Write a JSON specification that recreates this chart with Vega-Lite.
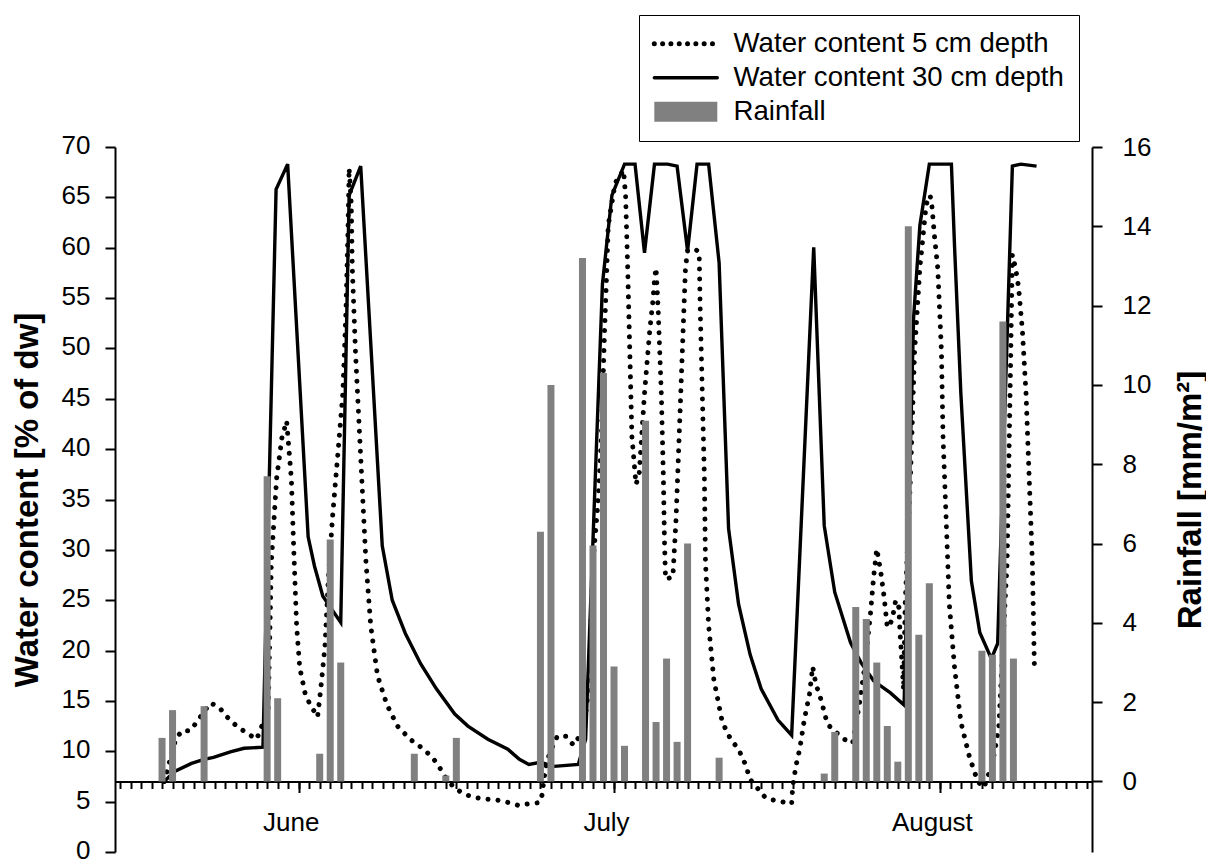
{
  "$schema": "https://vega.github.io/schema/vega-lite/v6.json",
  "width": 977,
  "height": 705,
  "autosize": "none",
  "padding": {"left": 115, "top": 147, "right": 114, "bottom": 8},
  "background": "white",
  "config": {
    "view": {"stroke": null},
    "font": "Liberation Sans",
    "axis": {
      "grid": false,
      "domainColor": "black",
      "domainWidth": 2,
      "tickColor": "black",
      "tickWidth": 2,
      "labelColor": "black",
      "labelFont": "Liberation Sans",
      "labelFontSize": 26,
      "labelFlush": false,
      "labelOverlap": false,
      "titleFont": "Liberation Sans",
      "titleFontSize": 33,
      "titleFontWeight": "bold",
      "titleColor": "black"
    },
    "axisRight": {"tickSize": 10, "labelPadding": 20, "labelAlign": "left"}
  },
  "datasets": {
    "water": [
      {"series": "5 cm", "doy": 153.2, "wc": 7.0}, {"series": "5 cm", "doy": 154.3, "wc": 11.2}, {"series": "5 cm", "doy": 154.9, "wc": 12.05}, {"series": "5 cm", "doy": 155.7, "wc": 12.05},
      {"series": "5 cm", "doy": 156.3, "wc": 12.9}, {"series": "5 cm", "doy": 157.6, "wc": 14.8}, {"series": "5 cm", "doy": 158.4, "wc": 14.4}, {"series": "5 cm", "doy": 159.2, "wc": 13.4},
      {"series": "5 cm", "doy": 160.1, "wc": 12.5}, {"series": "5 cm", "doy": 161.1, "wc": 11.8}, {"series": "5 cm", "doy": 162.0, "wc": 11.2}, {"series": "5 cm", "doy": 163.1, "wc": 14.1},
      {"series": "5 cm", "doy": 163.4, "wc": 28.8}, {"series": "5 cm", "doy": 163.9, "wc": 37.1}, {"series": "5 cm", "doy": 164.4, "wc": 41.1}, {"series": "5 cm", "doy": 164.85, "wc": 42.8},
      {"series": "5 cm", "doy": 165.3, "wc": 37.1}, {"series": "5 cm", "doy": 165.5, "wc": 30.9}, {"series": "5 cm", "doy": 165.8, "wc": 22.5}, {"series": "5 cm", "doy": 166.1, "wc": 18.3},
      {"series": "5 cm", "doy": 166.6, "wc": 15.8}, {"series": "5 cm", "doy": 167.05, "wc": 14.7}, {"series": "5 cm", "doy": 167.8, "wc": 13.4}, {"series": "5 cm", "doy": 168.1, "wc": 16.2},
      {"series": "5 cm", "doy": 168.5, "wc": 20.4}, {"series": "5 cm", "doy": 168.8, "wc": 26.7}, {"series": "5 cm", "doy": 169.2, "wc": 33.0}, {"series": "5 cm", "doy": 169.7, "wc": 39.2},
      {"series": "5 cm", "doy": 170.2, "wc": 45.5}, {"series": "5 cm", "doy": 170.5, "wc": 53.9}, {"series": "5 cm", "doy": 170.7, "wc": 62.2}, {"series": "5 cm", "doy": 170.8, "wc": 67.9},
      {"series": "5 cm", "doy": 171.0, "wc": 64.3}, {"series": "5 cm", "doy": 171.1, "wc": 58.0}, {"series": "5 cm", "doy": 171.4, "wc": 49.7}, {"series": "5 cm", "doy": 171.8, "wc": 41.3},
      {"series": "5 cm", "doy": 172.1, "wc": 35.0}, {"series": "5 cm", "doy": 172.4, "wc": 28.8}, {"series": "5 cm", "doy": 172.85, "wc": 22.5}, {"series": "5 cm", "doy": 173.5, "wc": 17.5},
      {"series": "5 cm", "doy": 174.4, "wc": 14.6}, {"series": "5 cm", "doy": 175.4, "wc": 12.5}, {"series": "5 cm", "doy": 176.6, "wc": 11.2}, {"series": "5 cm", "doy": 177.9, "wc": 10.2},
      {"series": "5 cm", "doy": 178.8, "wc": 9.3}, {"series": "5 cm", "doy": 179.4, "wc": 8.4}, {"series": "5 cm", "doy": 179.9, "wc": 7.5}, {"series": "5 cm", "doy": 180.7, "wc": 6.5},
      {"series": "5 cm", "doy": 181.5, "wc": 5.9}, {"series": "5 cm", "doy": 182.4, "wc": 5.5}, {"series": "5 cm", "doy": 183.4, "wc": 5.3}, {"series": "5 cm", "doy": 184.3, "wc": 5.2},
      {"series": "5 cm", "doy": 185.25, "wc": 5.1}, {"series": "5 cm", "doy": 186.0, "wc": 4.9}, {"series": "5 cm", "doy": 187.0, "wc": 4.6}, {"series": "5 cm", "doy": 187.9, "wc": 4.8},
      {"series": "5 cm", "doy": 188.9, "wc": 4.9}, {"series": "5 cm", "doy": 189.2, "wc": 5.8}, {"series": "5 cm", "doy": 189.3, "wc": 7.1}, {"series": "5 cm", "doy": 189.65, "wc": 9.1},
      {"series": "5 cm", "doy": 190.0, "wc": 10.1}, {"series": "5 cm", "doy": 190.6, "wc": 11.5}, {"series": "5 cm", "doy": 191.4, "wc": 11.5}, {"series": "5 cm", "doy": 192.15, "wc": 10.6},
      {"series": "5 cm", "doy": 193.1, "wc": 12.1}, {"series": "5 cm", "doy": 193.6, "wc": 16.2}, {"series": "5 cm", "doy": 194.0, "wc": 28.8}, {"series": "5 cm", "doy": 194.5, "wc": 35.0},
      {"series": "5 cm", "doy": 194.8, "wc": 41.3}, {"series": "5 cm", "doy": 195.1, "wc": 51.8}, {"series": "5 cm", "doy": 195.25, "wc": 56.0}, {"series": "5 cm", "doy": 195.45, "wc": 62.2},
      {"series": "5 cm", "doy": 196.1, "wc": 66.4}, {"series": "5 cm", "doy": 196.9, "wc": 67.7}, {"series": "5 cm", "doy": 197.1, "wc": 65.2}, {"series": "5 cm", "doy": 197.3, "wc": 58.0},
      {"series": "5 cm", "doy": 197.5, "wc": 49.7}, {"series": "5 cm", "doy": 197.7, "wc": 41.3}, {"series": "5 cm", "doy": 198.0, "wc": 37.6}, {"series": "5 cm", "doy": 198.1, "wc": 36.5},
      {"series": "5 cm", "doy": 198.4, "wc": 37.6}, {"series": "5 cm", "doy": 198.9, "wc": 45.5}, {"series": "5 cm", "doy": 199.4, "wc": 51.8}, {"series": "5 cm", "doy": 199.7, "wc": 54.7},
      {"series": "5 cm", "doy": 199.85, "wc": 56.8}, {"series": "5 cm", "doy": 200.0, "wc": 58.0}, {"series": "5 cm", "doy": 200.2, "wc": 53.9}, {"series": "5 cm", "doy": 200.5, "wc": 45.5},
      {"series": "5 cm", "doy": 200.7, "wc": 37.1}, {"series": "5 cm", "doy": 200.8, "wc": 30.9}, {"series": "5 cm", "doy": 200.9, "wc": 27.1}, {"series": "5 cm", "doy": 201.6, "wc": 27.3},
      {"series": "5 cm", "doy": 201.9, "wc": 33.0}, {"series": "5 cm", "doy": 202.2, "wc": 41.3}, {"series": "5 cm", "doy": 202.5, "wc": 49.7}, {"series": "5 cm", "doy": 202.8, "wc": 58.0},
      {"series": "5 cm", "doy": 203.0, "wc": 59.7}, {"series": "5 cm", "doy": 203.6, "wc": 59.9}, {"series": "5 cm", "doy": 204.1, "wc": 59.6}, {"series": "5 cm", "doy": 204.2, "wc": 53.9},
      {"series": "5 cm", "doy": 204.4, "wc": 45.5}, {"series": "5 cm", "doy": 204.6, "wc": 37.1}, {"series": "5 cm", "doy": 204.7, "wc": 28.8}, {"series": "5 cm", "doy": 205.0, "wc": 22.5},
      {"series": "5 cm", "doy": 205.5, "wc": 17.1}, {"series": "5 cm", "doy": 206.3, "wc": 12.9}, {"series": "5 cm", "doy": 207.1, "wc": 11.2}, {"series": "5 cm", "doy": 207.85, "wc": 10.2},
      {"series": "5 cm", "doy": 208.5, "wc": 8.7}, {"series": "5 cm", "doy": 208.95, "wc": 7.2}, {"series": "5 cm", "doy": 209.6, "wc": 6.4}, {"series": "5 cm", "doy": 210.4, "wc": 5.4},
      {"series": "5 cm", "doy": 211.0, "wc": 5.2}, {"series": "5 cm", "doy": 211.9, "wc": 5.0}, {"series": "5 cm", "doy": 212.9, "wc": 4.8}, {"series": "5 cm", "doy": 213.0, "wc": 6.5},
      {"series": "5 cm", "doy": 213.3, "wc": 8.5}, {"series": "5 cm", "doy": 213.7, "wc": 10.4}, {"series": "5 cm", "doy": 214.1, "wc": 13.1}, {"series": "5 cm", "doy": 214.6, "wc": 15.7},
      {"series": "5 cm", "doy": 214.9, "wc": 18.4}, {"series": "5 cm", "doy": 215.2, "wc": 16.7}, {"series": "5 cm", "doy": 215.7, "wc": 15.1}, {"series": "5 cm", "doy": 216.3, "wc": 12.7},
      {"series": "5 cm", "doy": 217.1, "wc": 11.9}, {"series": "5 cm", "doy": 217.9, "wc": 11.2}, {"series": "5 cm", "doy": 218.7, "wc": 10.8}, {"series": "5 cm", "doy": 219.3, "wc": 14.4},
      {"series": "5 cm", "doy": 219.9, "wc": 18.7}, {"series": "5 cm", "doy": 220.4, "wc": 23.7}, {"series": "5 cm", "doy": 220.7, "wc": 27.3}, {"series": "5 cm", "doy": 221.0, "wc": 30.1},
      {"series": "5 cm", "doy": 221.35, "wc": 28.0}, {"series": "5 cm", "doy": 221.7, "wc": 25.3}, {"series": "5 cm", "doy": 222.0, "wc": 22.3}, {"series": "5 cm", "doy": 222.45, "wc": 23.0},
      {"series": "5 cm", "doy": 222.8, "wc": 25.0}, {"series": "5 cm", "doy": 223.1, "wc": 24.3}, {"series": "5 cm", "doy": 223.2, "wc": 22.0}, {"series": "5 cm", "doy": 223.4, "wc": 18.7},
      {"series": "5 cm", "doy": 223.55, "wc": 16.1}, {"series": "5 cm", "doy": 223.7, "wc": 24.6}, {"series": "5 cm", "doy": 224.2, "wc": 37.1}, {"series": "5 cm", "doy": 224.6, "wc": 49.7},
      {"series": "5 cm", "doy": 225.1, "wc": 58.0}, {"series": "5 cm", "doy": 225.7, "wc": 64.3}, {"series": "5 cm", "doy": 226.05, "wc": 65.2}, {"series": "5 cm", "doy": 226.2, "wc": 64.7},
      {"series": "5 cm", "doy": 226.5, "wc": 61.0}, {"series": "5 cm", "doy": 226.8, "wc": 58.0}, {"series": "5 cm", "doy": 227.15, "wc": 49.7}, {"series": "5 cm", "doy": 227.3, "wc": 41.3},
      {"series": "5 cm", "doy": 227.6, "wc": 33.0}, {"series": "5 cm", "doy": 227.9, "wc": 24.6}, {"series": "5 cm", "doy": 228.4, "wc": 18.3}, {"series": "5 cm", "doy": 229.0, "wc": 12.9},
      {"series": "5 cm", "doy": 229.8, "wc": 9.5}, {"series": "5 cm", "doy": 230.6, "wc": 7.0}, {"series": "5 cm", "doy": 231.2, "wc": 6.4}, {"series": "5 cm", "doy": 232.0, "wc": 8.8},
      {"series": "5 cm", "doy": 232.6, "wc": 12.2}, {"series": "5 cm", "doy": 233.4, "wc": 28.8}, {"series": "5 cm", "doy": 233.75, "wc": 49.7}, {"series": "5 cm", "doy": 233.9, "wc": 59.3},
      {"series": "5 cm", "doy": 234.2, "wc": 58.0}, {"series": "5 cm", "doy": 234.5, "wc": 56.0}, {"series": "5 cm", "doy": 234.85, "wc": 51.8}, {"series": "5 cm", "doy": 235.2, "wc": 45.5},
      {"series": "5 cm", "doy": 235.5, "wc": 37.1}, {"series": "5 cm", "doy": 235.8, "wc": 28.8}, {"series": "5 cm", "doy": 236.0, "wc": 18.1},
      {"series": "30 cm", "doy": 153.2, "wc": 7.0}, {"series": "30 cm", "doy": 154.2, "wc": 8.0}, {"series": "30 cm", "doy": 155.8, "wc": 8.8}, {"series": "30 cm", "doy": 157.0, "wc": 9.2},
      {"series": "30 cm", "doy": 157.9, "wc": 9.4}, {"series": "30 cm", "doy": 159.5, "wc": 9.95}, {"series": "30 cm", "doy": 160.8, "wc": 10.3}, {"series": "30 cm", "doy": 162.6, "wc": 10.4},
      {"series": "30 cm", "doy": 163.85, "wc": 65.8}, {"series": "30 cm", "doy": 164.95, "wc": 68.3}, {"series": "30 cm", "doy": 166.9, "wc": 31.3}, {"series": "30 cm", "doy": 167.5, "wc": 28.4},
      {"series": "30 cm", "doy": 168.3, "wc": 25.4}, {"series": "30 cm", "doy": 170.0, "wc": 22.8}, {"series": "30 cm", "doy": 170.8, "wc": 65.2}, {"series": "30 cm", "doy": 171.9, "wc": 68.1},
      {"series": "30 cm", "doy": 173.95, "wc": 30.4}, {"series": "30 cm", "doy": 174.9, "wc": 25.0}, {"series": "30 cm", "doy": 176.15, "wc": 21.7}, {"series": "30 cm", "doy": 177.6, "wc": 18.7},
      {"series": "30 cm", "doy": 179.1, "wc": 16.2}, {"series": "30 cm", "doy": 180.85, "wc": 13.7}, {"series": "30 cm", "doy": 182.1, "wc": 12.5}, {"series": "30 cm", "doy": 184.0, "wc": 11.2},
      {"series": "30 cm", "doy": 185.9, "wc": 10.2}, {"series": "30 cm", "doy": 187.0, "wc": 9.2}, {"series": "30 cm", "doy": 187.9, "wc": 8.7}, {"series": "30 cm", "doy": 189.0, "wc": 8.9},
      {"series": "30 cm", "doy": 190.3, "wc": 8.5}, {"series": "30 cm", "doy": 192.6, "wc": 8.7}, {"series": "30 cm", "doy": 193.3, "wc": 11.2}, {"series": "30 cm", "doy": 194.9, "wc": 56.4},
      {"series": "30 cm", "doy": 195.8, "wc": 65.2}, {"series": "30 cm", "doy": 197.0, "wc": 68.3}, {"series": "30 cm", "doy": 198.0, "wc": 68.3}, {"series": "30 cm", "doy": 198.9, "wc": 59.5},
      {"series": "30 cm", "doy": 199.85, "wc": 68.3}, {"series": "30 cm", "doy": 201.1, "wc": 68.3}, {"series": "30 cm", "doy": 202.0, "wc": 68.1}, {"series": "30 cm", "doy": 203.0, "wc": 59.7},
      {"series": "30 cm", "doy": 203.9, "wc": 68.3}, {"series": "30 cm", "doy": 205.0, "wc": 68.3}, {"series": "30 cm", "doy": 206.0, "wc": 58.5}, {"series": "30 cm", "doy": 206.9, "wc": 32.1},
      {"series": "30 cm", "doy": 207.85, "wc": 24.6}, {"series": "30 cm", "doy": 208.95, "wc": 19.6}, {"series": "30 cm", "doy": 210.0, "wc": 16.2}, {"series": "30 cm", "doy": 211.6, "wc": 13.1},
      {"series": "30 cm", "doy": 212.9, "wc": 11.6}, {"series": "30 cm", "doy": 215.0, "wc": 60.05}, {"series": "30 cm", "doy": 216.0, "wc": 32.4}, {"series": "30 cm", "doy": 217.0, "wc": 25.8},
      {"series": "30 cm", "doy": 218.5, "wc": 20.8}, {"series": "30 cm", "doy": 219.5, "wc": 18.8}, {"series": "30 cm", "doy": 220.7, "wc": 17.0}, {"series": "30 cm", "doy": 222.3, "wc": 15.8},
      {"series": "30 cm", "doy": 223.6, "wc": 14.6}, {"series": "30 cm", "doy": 224.5, "wc": 53.0}, {"series": "30 cm", "doy": 225.1, "wc": 62.2}, {"series": "30 cm", "doy": 226.0, "wc": 68.3},
      {"series": "30 cm", "doy": 228.1, "wc": 68.3}, {"series": "30 cm", "doy": 228.4, "wc": 60.1}, {"series": "30 cm", "doy": 229.0, "wc": 45.5}, {"series": "30 cm", "doy": 230.0, "wc": 26.9},
      {"series": "30 cm", "doy": 230.8, "wc": 21.8}, {"series": "30 cm", "doy": 231.9, "wc": 19.2}, {"series": "30 cm", "doy": 232.5, "wc": 20.7}, {"series": "30 cm", "doy": 233.9, "wc": 68.1},
      {"series": "30 cm", "doy": 234.7, "wc": 68.3}, {"series": "30 cm", "doy": 236.2, "wc": 68.1}
    ],
    "rain": [
      {"series": "Rainfall", "doy": 153, "rain": 1.1}, {"series": "Rainfall", "doy": 154, "rain": 1.8}, {"series": "Rainfall", "doy": 157, "rain": 1.9}, {"series": "Rainfall", "doy": 163, "rain": 7.7},
      {"series": "Rainfall", "doy": 164, "rain": 2.1}, {"series": "Rainfall", "doy": 168, "rain": 0.7}, {"series": "Rainfall", "doy": 169, "rain": 6.1}, {"series": "Rainfall", "doy": 170, "rain": 3.0},
      {"series": "Rainfall", "doy": 177, "rain": 0.7}, {"series": "Rainfall", "doy": 180, "rain": 0.15}, {"series": "Rainfall", "doy": 181, "rain": 1.1}, {"series": "Rainfall", "doy": 189, "rain": 6.3},
      {"series": "Rainfall", "doy": 190, "rain": 10.0}, {"series": "Rainfall", "doy": 193, "rain": 13.2}, {"series": "Rainfall", "doy": 194, "rain": 5.95}, {"series": "Rainfall", "doy": 195, "rain": 10.3},
      {"series": "Rainfall", "doy": 196, "rain": 2.9}, {"series": "Rainfall", "doy": 197, "rain": 0.9}, {"series": "Rainfall", "doy": 199, "rain": 9.1}, {"series": "Rainfall", "doy": 200, "rain": 1.5},
      {"series": "Rainfall", "doy": 201, "rain": 3.1}, {"series": "Rainfall", "doy": 202, "rain": 1.0}, {"series": "Rainfall", "doy": 203, "rain": 6.0}, {"series": "Rainfall", "doy": 206, "rain": 0.6},
      {"series": "Rainfall", "doy": 216, "rain": 0.2}, {"series": "Rainfall", "doy": 217, "rain": 1.25}, {"series": "Rainfall", "doy": 219, "rain": 4.4}, {"series": "Rainfall", "doy": 220, "rain": 4.1},
      {"series": "Rainfall", "doy": 221, "rain": 3.0}, {"series": "Rainfall", "doy": 222, "rain": 1.4}, {"series": "Rainfall", "doy": 223, "rain": 0.5}, {"series": "Rainfall", "doy": 224, "rain": 14.0},
      {"series": "Rainfall", "doy": 225, "rain": 3.7}, {"series": "Rainfall", "doy": 226, "rain": 5.0}, {"series": "Rainfall", "doy": 231, "rain": 3.3}, {"series": "Rainfall", "doy": 232, "rain": 3.2},
      {"series": "Rainfall", "doy": 233, "rain": 11.6}, {"series": "Rainfall", "doy": 234, "rain": 3.1}
    ]
  },
  "layer": [
    {
      "data": {"name": "water"},
      "layer": [
        {
          "transform": [{"filter": "datum.series === '5 cm'"}],
          "mark": {"type": "line", "strokeWidth": 5, "strokeDash": [0.01, 10], "strokeCap": "round"},
          "encoding": {
            "x": {
              "field": "doy", "type": "quantitative",
              "scale": {"domain": [149, 241], "nice": false, "zero": false},
              "axis": {"orient": "bottom", "offset": -70.5, "tickCount": 92, "labels": false, "tickSize": 7, "title": null}
            },
            "y": {
              "field": "wc", "type": "quantitative",
              "scale": {"domain": [0, 70], "nice": false, "zero": false},
              "axis": {
                "orient": "left",
                "values": [0, 5, 10, 15, 20, 25, 30, 35, 40, 45, 50, 55, 60, 65, 70],
                "tickSize": 10, "labelPadding": 15, "labelOffset": -1.5, "labelAlign": "right",
                "title": "Water content [% of dw]",
                "titleAngle": 270, "titleAlign": "center", "titleBaseline": "alphabetic",
                "titleX": -78, "titleY": 352.5
              }
            },
            "color": {
              "field": "series", "type": "nominal",
              "scale": {"domain": ["5 cm", "30 cm", "Rainfall"], "range": ["black", "black", "#808080"]},
              "legend": {
                "orient": "none", "legendX": 524, "legendY": -132,
                "title": null,
                "padding": 15,
                "strokeColor": "black",
                "fillColor": "white",
                "symbolSize": 441,
                "symbolOffset": 18,
                "labelOffset": 34,
                "labelLimit": 600,
                "rowPadding": 5,
                "labelFont": "Liberation Sans",
                "labelFontSize": 27.6,
                "labelColor": "black",
                "labelExpr": "datum.label === 'Rainfall' ? 'Rainfall' : 'Water content ' + datum.label + ' depth'",
                "encode": {
                  "symbols": {
                    "update": {
                      "shape": {"signal": "datum.value === 'Rainfall' ? 'M-3,-0.95H3V0.95H-3Z' : 'M-3,0H3'"},
                      "fill": {"signal": "datum.value === 'Rainfall' ? '#808080' : 'transparent'"},
                      "stroke": {"signal": "datum.value === 'Rainfall' ? 'transparent' : 'black'"},
                      "strokeWidth": {"signal": "datum.value === '5 cm' ? 5 : datum.value === 'Rainfall' ? 0 : 3.4"},
                      "strokeDash": {"signal": "datum.value === '5 cm' ? [0.01, 8.3] : [1, 0]"},
                      "strokeCap": {"value": "round"},
                      "opacity": {"value": 1}
                    }
                  }
                }
              }
            }
          }
        },
        {
          "transform": [{"filter": "datum.series === '30 cm'"}],
          "mark": {"type": "line", "strokeWidth": 3.4, "strokeJoin": "miter"},
          "encoding": {
            "x": {"field": "doy", "type": "quantitative"},
            "y": {"field": "wc", "type": "quantitative"},
            "color": {"field": "series", "type": "nominal"}
          }
        }
      ]
    },
    {
      "data": {"name": "rain"},
      "mark": {"type": "bar", "size": 7},
      "encoding": {
        "x": {
          "field": "doy", "type": "quantitative",
          "axis": {
            "orient": "bottom", "offset": -70.5, "values": [166, 196, 227],
            "tickSize": 11, "labelPadding": 17, "labelOffset": -8, "domain": false, "title": null,
            "labelExpr": "datum.value == 166 ? 'June' : datum.value == 196 ? 'July' : 'August'"
          }
        },
        "y": {
          "field": "rain", "type": "quantitative",
          "scale": {"domain": [-1.77778, 16], "nice": false, "zero": false},
          "axis": {
            "orient": "right",
            "values": [0, 2, 4, 6, 8, 10, 12, 14, 16],
            "tickSize": 10, "labelPadding": 20, "labelAlign": "left",
            "title": "Rainfall [mm/m²]",
            "titleAngle": 270, "titleAlign": "center", "titleBaseline": "alphabetic",
            "titleX": 108, "titleY": 352.5,
            "encode": {
              "labels": {
                "dx": {"value": 27},
                "update": {"dx": {"value": 27}}
              }
            }
          }
        },
        "y2": {"datum": 0},
        "color": {"field": "series", "type": "nominal"}
      }
    }
  ],
  "resolve": {"scale": {"y": "independent"}, "axis": {"x": "independent", "y": "independent"}}
}
